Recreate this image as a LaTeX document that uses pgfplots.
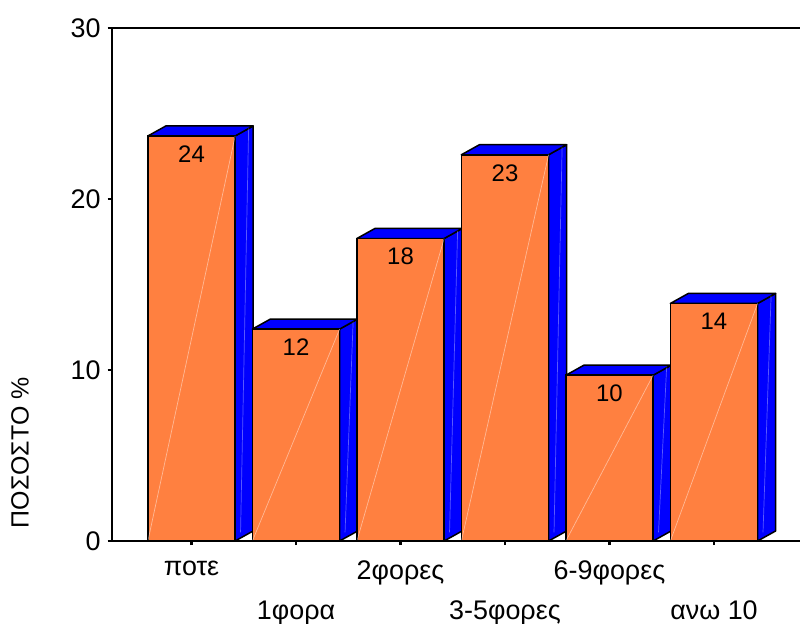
\documentclass[border=0pt]{standalone}
\usepackage{fontspec}
\setmainfont{Liberation Sans}
\usepackage{pgfplots}
\usepackage{pgfplotstable}
\pgfplotsset{compat=1.18}

\definecolor{barfront}{RGB}{255,128,64}
\definecolor{barside}{RGB}{0,0,255}

% percentage of respondents per frequency class
\pgfplotstableread{
x v
0 23.7
1 12.4
2 17.7
3 22.6
4 9.7
5 13.9
}\freqtable

\newcommand\bw{0.835}  % width of the front face (axis units)
\newcommand\dx{0.172}  % depth offset to the right (axis units)
\newcommand\dy{0.586}  % depth offset upwards (axis units)

\begin{document}
\begin{tikzpicture}
\useasboundingbox (0,0) rectangle (400bp,312bp);
\begin{axis}[
  at={(55.85bp,41.5bp)}, anchor=south west,
  scale only axis, width=346.65bp, height=256.35bp,
  xmin=-0.764, xmax=5.871, ymin=0, ymax=30,
  axis on top,
  axis line style={line width=1bp},
  xtick={0,2,4}, xticklabels={ποτε,2φορες,6-9φορες},
  xticklabel style={yshift=-4.5bp},
  extra x ticks={1,3,5}, extra x tick labels={1φορα,3-5φορες,ανω 10},
  extra x tick style={xticklabel style={yshift=-19.8bp}},
  ytick={0,10,20,30},
  tick align=outside, major tick length=2bp,
  tick style={line width=1.2bp, black},
  xtick pos=bottom, ytick pos=left,
  ticklabel style={font=\fontsize{13.5}{16}\selectfont},
  /pgf/number format/assume math mode=true,
  ylabel={ΠΟΣΟΣΤΟ \%},
  ylabel style={at={(axis description cs:-0.1323,0.172)}, anchor=center,
    font=\fontsize{12.5}{15}\selectfont},
]
% side and top faces of the 3D bars
\pgfplotsforeachungrouped \i in {0,...,5}{%
  \pgfplotstablegetelem{\i}{x}\of\freqtable \let\cx\pgfplotsretval
  \pgfplotstablegetelem{\i}{v}\of\freqtable \let\cv\pgfplotsretval
  \pgfmathsetmacro\xl{\cx-\bw/2}%
  \pgfmathsetmacro\xr{\cx+\bw/2}%
  \pgfmathsetmacro\xlb{\xl+\dx}%
  \pgfmathsetmacro\xrb{\xr+\dx}%
  \pgfmathsetmacro\vb{\cv+\dy}%
  \edef\faces{%
    \noexpand\addplot[fill=barside, draw=black, line width=0.75bp, line join=round]
      coordinates {(\xr,0) (\xrb,\dy) (\xrb,\vb) (\xr,\cv)} --cycle;
    \noexpand\addplot[fill=barside, draw=black, line width=0.75bp, line join=round]
      coordinates {(\xl,\cv) (\xlb,\vb) (\xrb,\vb) (\xr,\cv)} --cycle;
  }\faces
}
% front faces with value labels
\addplot[ybar, bar width=\bw, fill=barfront, draw=black, line width=0.75bp,
  nodes near coords={\pgfmathprintnumber[fixed,precision=0]{\pgfplotspointmeta}},
  nodes near coords style={anchor=north, inner sep=0pt, yshift=-4.5bp,
    font=\fontsize{12}{14}\selectfont, text=black}]
  table[x=x, y=v]{\freqtable};
% light gloss streaks on the faces
\pgfplotsforeachungrouped \i in {0,...,5}{%
  \pgfplotstablegetelem{\i}{x}\of\freqtable \let\cx\pgfplotsretval
  \pgfplotstablegetelem{\i}{v}\of\freqtable \let\cv\pgfplotsretval
  \pgfmathsetmacro\xl{\cx-\bw/2}%
  \pgfmathsetmacro\xr{\cx+\bw/2}%
  \pgfmathsetmacro\xs{\xr+0.3*\dx}%
  \pgfmathsetmacro\xt{\xr+0.75*\dx}%
  \pgfmathsetmacro\vs{\cv+0.75*\dy}%
  \edef\gloss{%
    \noexpand\addplot[draw=white, draw opacity=0.45, line width=0.35bp]
      coordinates {(\xl,0) (\xr,\cv)};
    \noexpand\addplot[draw=white, draw opacity=0.35, line width=0.35bp]
      coordinates {(\xs,0.5) (\xt,\vs)};
  }\gloss
}
\end{axis}
\end{tikzpicture}
\end{document}
